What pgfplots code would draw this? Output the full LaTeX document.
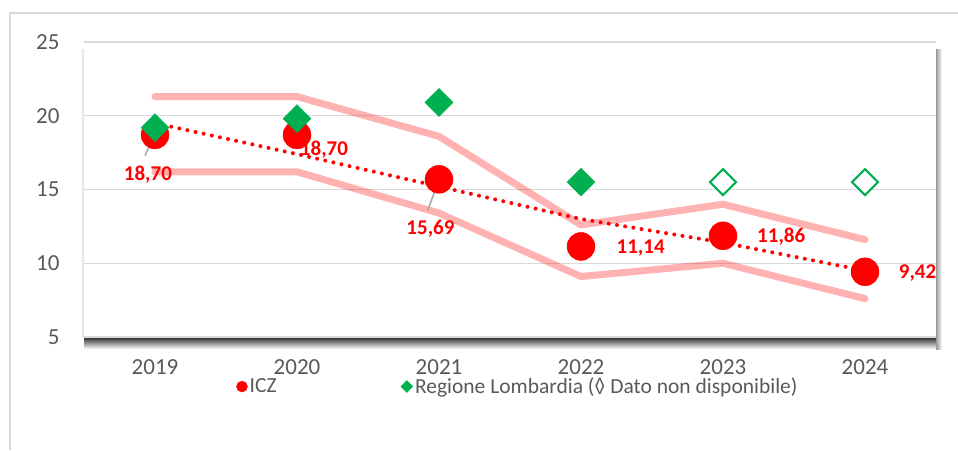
\documentclass[border=0pt]{standalone}
\usepackage{pgfplots}
\pgfplotsset{compat=1.18}
\usepackage{fontspec}
\setmainfont{Carlito}
\definecolor{icz}{HTML}{FF0000}
\definecolor{lomb}{HTML}{00B050}
\definecolor{gridc}{HTML}{D9D9D9}
\definecolor{txt}{HTML}{595959}
\definecolor{lead}{HTML}{A6A6A6}
\begin{document}
\begin{tikzpicture}
\useasboundingbox (0,0) rectangle (958pt,450pt);
\draw[gridc, line width=1.5pt] (10pt,0) -- (10pt,437pt) -- (958pt,437pt);
% plot area shadows
\shade[top color=black!85, bottom color=white] (84pt,101pt) rectangle (941pt,113pt);
\shade[left color=black!40, right color=white] (936pt,101pt) rectangle (942pt,400pt);
\shade[left color=white, right color=black!15] (80pt,113pt) rectangle (84pt,400pt);
\fill[white] (84pt,113pt) rectangle (936pt,400pt);
\begin{axis}[
  at={(84pt,113pt)}, anchor=south west,
  scale only axis, width=852pt, height=295pt,
  xmin=-0.5, xmax=5.5, ymin=5, ymax=25,
  xtick={0,1,2,3,4,5}, xticklabels={2019,2020,2021,2022,2023,2024},
  ytick={5,10,15,20,25},
  axis line style={draw=none}, major tick length=0pt,
  ymajorgrids, grid style={gridc, line width=1.5pt},
  ticklabel style={font=\fontsize{23}{27}\selectfont, text=txt},
  /pgf/number format/assume math mode=true,
  yticklabel style={anchor=east, xshift=-21pt},
  xticklabel style={anchor=north, yshift=-19pt},
  clip=false,
  legend columns=2,
  legend style={draw=none, fill=none, at={(0.175,-0.168)}, anchor=west,
    font=\fontsize{21.5}{25}\selectfont, text=txt,
    /tikz/every even column/.append style={column sep=122pt}},
]
% pink band lines
\addplot[forget plot, icz, opacity=0.3, line width=7pt, line join=round, line cap=round]
  coordinates {(0,21.3)(1,21.3)(2,18.6)(3,12.6)(4,14.0)(5,11.6)};
\addplot[forget plot, icz, opacity=0.3, line width=7pt, line join=round, line cap=round]
  coordinates {(0,16.2)(1,16.2)(2,13.4)(3,9.1)(4,10.0)(5,7.6)};
% ICZ
\addplot[forget plot, icz, only marks, mark=*, mark size=14pt, mark options={fill=icz, draw=none}]
  coordinates {(0,18.70)(1,18.70)(2,15.69)(3,11.14)(4,11.86)(5,9.42)};
% Regione Lombardia
\addplot[forget plot, lomb, only marks, mark=square*, mark size=9.9pt, mark options={rotate=45, fill=lomb, draw=none}]
  coordinates {(0,19.2)(1,19.8)(2,20.9)(3,15.5)};
\addplot[forget plot, lomb, only marks, mark=square*, mark size=9.2pt, mark options={rotate=45, fill=white, draw=lomb, line width=2pt}]
  coordinates {(4,15.5)(5,15.5)};
% trend (dotted)
\addplot[forget plot, icz, line width=4pt, line cap=round, dash pattern=on 0pt off 8.3pt]
  coordinates {(0,19.5)(1,17.4)(2,15.2)(3,13.0)(4,11.4)(5,9.5)};
% legend
\addlegendimage{legend image code/.code={\fill[icz] (0pt,0pt) circle (5.5pt);}}
\addlegendentry{ICZ}
\addlegendimage{legend image code/.code={\fill[lomb] (-6pt,0pt) -- (0pt,6pt) -- (6pt,0pt) -- (0pt,-6pt) -- cycle;}}
\addlegendentry{Regione Lombardia (◊ Dato non disponibile)}
% leader lines
\draw[lead, line width=1.5pt] (axis cs:-0.07,17.3) -- (axis cs:0.0,18.74);
\draw[lead, line width=1.5pt] (axis cs:1.92,13.57) -- (axis cs:2.0,15.68);
% data labels
\begin{scope}[every node/.style={font=\bfseries\fontsize{21}{25}\selectfont, text=icz, inner sep=0pt}]
\node at (axis cs:-0.05,16.02) {18,70};
\node at (axis cs:1.19,17.72) {18,70};
\node at (axis cs:1.94,12.35) {15,69};
\node at (axis cs:3.42,11.05) {11,14};
\node at (axis cs:4.41,11.80) {11,86};
\node at (axis cs:5.37,9.35) {9,42};
\end{scope}
\end{axis}
\end{tikzpicture}
\end{document}
